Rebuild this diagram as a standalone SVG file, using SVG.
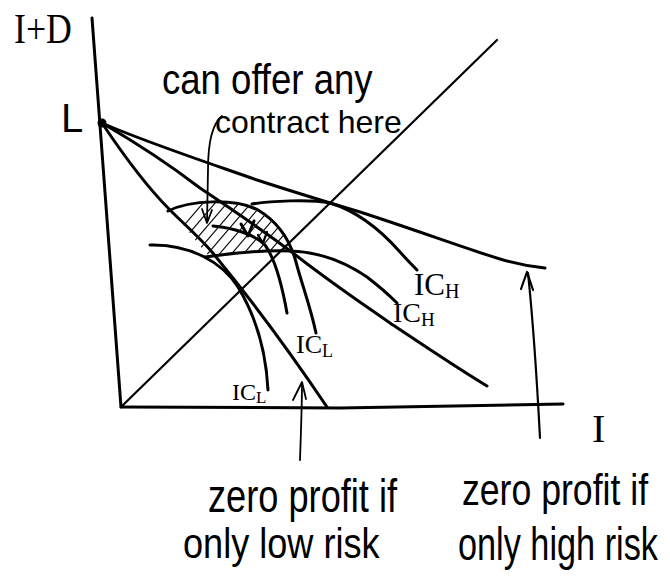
<svg xmlns="http://www.w3.org/2000/svg" width="670" height="584" viewBox="0 0 670 584">
<style>
.ln{fill:none;stroke:#000;stroke-width:3;stroke-linecap:round;stroke-linejoin:round}
.md{fill:none;stroke:#000;stroke-width:2.2;stroke-linecap:round;stroke-linejoin:round}
.th{fill:none;stroke:#000;stroke-width:1.8;stroke-linecap:round;stroke-linejoin:round}
.ht{fill:none;stroke:#111;stroke-width:1.2;stroke-linecap:round}
.hw{font-family:"Liberation Sans",Arial,sans-serif;fill:#000}
.sf{font-family:"Liberation Serif","Times New Roman",serif;fill:#000}
</style>
<defs>
<clipPath id="hatchClip">
<polygon points="170,209 190,202 215,200 240,203 258,210 272,219 283,233 292,251 262,250 236,253 210,257 200,246 186,228"/>
</clipPath>
</defs>
<rect x="0" y="0" width="670" height="584" fill="#fff"/>

<g id="axes">
<path class="ln" d="M92,18 L121,407"/>
<path class="ln" d="M121,407 L340,408 L563,404"/>
<circle cx="102" cy="123" r="4.5" fill="#000"/>
</g>

<g id="connectors">
<path class="md" d="M121,407 L497,40"/>
<path class="ln" d="M102,123 C140,140 200,160 257,180 C300,194 330,203 360,212 C410,228 470,250 500,259 C520,265 535,267 545,268"/>
<path class="ln" d="M102,123 C140,145 170,165 200,188 C230,208 265,232 293,253 C330,282 360,302 390,323 C420,343 460,370 487,386"/>
<path class="ln" d="M102,123 C120,150 145,185 170,210 C185,225 200,238 212,252 C245,292 290,352 327,407"/>
<path class="ln" d="M150,245 C190,244 222,262 238,287 C255,315 266,350 268,390"/>
<path class="ln" d="M168,211 C190,200 235,198 258,210 C278,222 290,240 296,262 C302,285 310,305 316,333"/>
<path class="ln" d="M213,226 C235,228 255,235 265,245 C276,260 282,285 287,313"/>
<path class="ln" d="M241,224 L248,236 L254,221"/>
<path class="md" d="M258,235 L263,243 L267,232"/>
<path class="ln" d="M252,204 C270,201 310,199 330,203 C360,212 385,235 400,252 C408,261 413,266 417,270"/>
<path class="ln" d="M205,257 C240,252 270,250 291,251 C320,252 345,262 367,277 C380,287 390,296 397,303"/>
<g clip-path="url(#hatchClip)">
<path class="ht" d="M150,265 L210,195 M162,265 L222,195 M174,265 L234,195 M186,265 L246,195 M198,265 L258,195 M210,265 L270,195 M222,265 L282,195 M234,265 L294,195 M246,265 L306,195 M258,265 L318,195 M270,265 L330,195 M282,265 L342,195"/>
</g>
<path class="th" d="M222,116 C212,124 208,145 208,170 L207,222"/>
<path class="th" d="M202,209 L207,223 L212,210"/>
<path class="th" d="M300,460 C301,430 302,405 302,383"/>
<path class="th" d="M293,400 L302,382 L306,399"/>
<path class="md" d="M540,438 C538,400 534,330 528,273"/>
<path class="md" d="M521,289 L527,272 L533,290"/>
</g>

<g id="labels">
<text class="sf" transform="translate(14,43) scale(0.85,1)" font-size="42">I+D</text>
<text class="hw" x="61" y="132" font-size="40">L</text>
<text class="sf" x="592" y="442" font-size="40">I</text>
<text class="sf" x="414" y="295" font-size="31">IC<tspan font-size="20" dy="3">H</tspan></text>
<text class="sf" x="393" y="322" font-size="28">IC<tspan font-size="19" dy="4">H</tspan></text>
<text class="sf" x="296" y="353" font-size="26">IC<tspan font-size="18" dy="4">L</tspan></text>
<text class="sf" x="232" y="400" font-size="24">IC<tspan font-size="17" dy="3">L</tspan></text>
<text class="hw" transform="translate(162,94) scale(0.87,1)" font-size="42">can offer any</text>
<text class="hw" x="215" y="133" font-size="32">contract here</text>
<text class="hw" transform="translate(208,512) scale(0.787,1)" font-size="46">zero profit if</text>
<text class="hw" transform="translate(183,558) scale(0.86,1)" font-size="42">only low risk</text>
<text class="hw" transform="translate(462,505) scale(0.81,1)" font-size="44">zero profit if</text>
<text class="hw" transform="translate(458,560) scale(0.745,1)" font-size="46">only high risk</text>
</g>
</svg>
